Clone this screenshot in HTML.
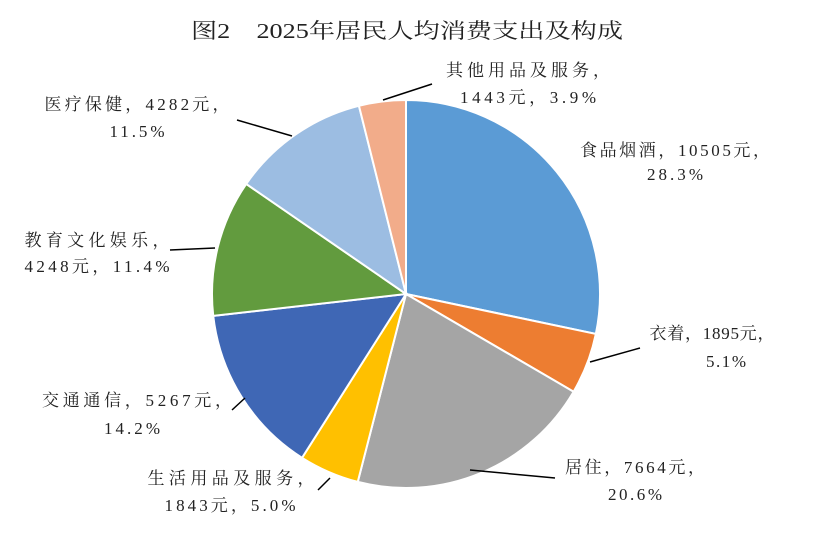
<!DOCTYPE html>
<html><head><meta charset="utf-8"><style>
html,body{margin:0;padding:0;background:#fff;}
svg text{font-family:"Liberation Serif","Noto Serif CJK SC",serif;font-size:17px;fill:#222;}
</style></head><body>
<svg id="s" width="813" height="538" xmlns="http://www.w3.org/2000/svg">
<text x="407" y="38" text-anchor="middle" style="font-size:21px" textLength="432" lengthAdjust="spacingAndGlyphs">图2　2025年居民人均消费支出及构成</text>
<g id="pie"></g>
<g stroke="#000" stroke-width="1.5" fill="none">
<polyline points="383,100 432,84"/>
<polyline points="237,120 292,136"/>
<polyline points="170,250 215,248"/>
<polyline points="640,348 590,362"/>
<polyline points="232,410 245,398"/>
<polyline points="318,490 330,478"/>
<polyline points="470,470 555,478"/>
</g>
<g text-anchor="middle" lengthAdjust="spacingAndGlyphs">
<text x="528" y="76" textLength="164">其他用品及服务，</text>
<text x="528" y="103" textLength="136">1443元，3.9%</text>
<text x="137" y="110" textLength="185">医疗保健，4282元，</text>
<text x="137" y="137" textLength="55">11.5%</text>
<text x="675" y="156" textLength="190">食品烟酒，10505元，</text>
<text x="675" y="180" textLength="56">28.3%</text>
<text x="97" y="246" textLength="145">教育文化娱乐，</text>
<text x="97" y="272" textLength="145">4248元，11.4%</text>
<text x="712" y="339" textLength="125">衣着，1895元，</text>
<text x="726" y="367" textLength="40">5.1%</text>
<text x="137" y="406" textLength="190">交通通信，5267元，</text>
<text x="132" y="434" textLength="56">14.2%</text>
<text x="231" y="484" textLength="167">生活用品及服务，</text>
<text x="230" y="511" textLength="131">1843元，5.0%</text>
<text x="635" y="473" textLength="140">居住，7664元，</text>
<text x="635" y="500" textLength="54">20.6%</text>
</g>
</svg>
<script>
var d=[[28.3,"#5B9BD5"],[5.1,"#ED7D31"],[20.6,"#A5A5A5"],[5.0,"#FFC000"],[14.2,"#3F67B5"],[11.4,"#629B3E"],[11.5,"#9CBDE2"],[3.9,"#F2AC8A"]];
var cx=406,cy=294,r=194,a=0,h="",tot=100;
d.forEach(function(x){var a2=a+x[0]/tot*2*Math.PI;
var x1=cx+r*Math.sin(a),y1=cy-r*Math.cos(a),x2=cx+r*Math.sin(a2),y2=cy-r*Math.cos(a2);
h+='<path d="M'+cx+','+cy+'L'+x1+','+y1+'A'+r+','+r+' 0 '+((a2-a)>Math.PI?1:0)+' 1 '+x2+','+y2+'Z" fill="'+x[1]+'" stroke="#fff" stroke-width="2"/>';a=a2;});
document.getElementById("pie").innerHTML=h;
</script>
</body></html>
